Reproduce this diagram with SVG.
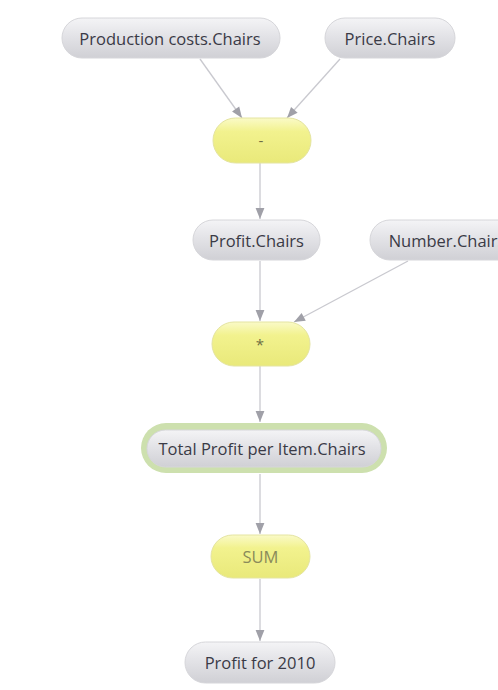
<svg xmlns="http://www.w3.org/2000/svg" width="498" height="690" viewBox="0 0 498 690">
  <style>
    .lbl { font-family: "Open Sans", "Noto Sans", "Liberation Sans", sans-serif; font-size: 16.5px; fill: #3a3a46; text-anchor: middle; dominant-baseline: central; }
    .op { font-family: "Open Sans", "Noto Sans", "Liberation Sans", sans-serif; font-size: 15px; fill: #6e6e44; text-anchor: middle; dominant-baseline: central; }
    .sum { font-size: 16.5px; fill: #8a8a5a; }
    .val { fill: url(#gGrey); stroke: #d6d6da; stroke-width: 1; }
    .fn { fill: url(#gYellow); stroke: #e4e4a0; stroke-width: 1; }
    .edge { stroke: #c9c9cf; stroke-width: 1.3; fill: none; marker-end: url(#arrow); }
  </style>
  <defs>
    <linearGradient id="gGrey" x1="0" y1="0" x2="0" y2="1">
      <stop offset="0" stop-color="#f4f4f6"/>
      <stop offset="0.45" stop-color="#e3e3e7"/>
      <stop offset="1" stop-color="#d0d0d5"/>
    </linearGradient>
    <linearGradient id="gYellow" x1="0" y1="0" x2="0" y2="1">
      <stop offset="0" stop-color="#fafac8"/>
      <stop offset="0.3" stop-color="#f2f28e"/>
      <stop offset="1" stop-color="#e9e97a"/>
    </linearGradient>
    <marker id="arrow" viewBox="0 0 10 10" refX="10" refY="5" markerWidth="12" markerHeight="11" markerUnits="userSpaceOnUse" orient="auto">
      <path d="M0,1 L10,5 L0,9 Z" fill="#a0a0a8"/>
    </marker>
  </defs>

  <!-- connectors -->
  <g id="edges">
    <line class="edge" x1="200" y1="59" x2="242" y2="118"/>
    <line class="edge" x1="340" y1="59" x2="287" y2="118"/>
    <line class="edge" x1="260" y1="163" x2="260" y2="219"/>
    <line class="edge" x1="260" y1="261" x2="260" y2="321"/>
    <line class="edge" x1="408" y1="261" x2="294" y2="322"/>
    <line class="edge" x1="260" y1="366" x2="260" y2="422"/>
    <line class="edge" x1="260" y1="474" x2="260" y2="534"/>
    <line class="edge" x1="260" y1="579" x2="260" y2="641"/>
  </g>

  <!-- nodes -->
  <g id="production-costs">
    <rect class="val" x="62" y="18" width="218" height="40" rx="20"/>
    <text class="lbl" x="170" y="38">Production costs.Chairs</text>
  </g>
  <g id="price">
    <rect class="val" x="325" y="18" width="130" height="40" rx="20"/>
    <text class="lbl" x="390" y="38">Price.Chairs</text>
  </g>
  <g id="op-minus">
    <rect class="fn" x="213" y="118" width="98" height="45" rx="22.5"/>
    <text class="op" x="261" y="140">-</text>
  </g>
  <g id="profit">
    <rect class="val" x="193" y="220" width="127" height="40" rx="20"/>
    <text class="lbl" x="256.5" y="240">Profit.Chairs</text>
  </g>
  <!-- this pill runs past the right edge of the canvas -->
  <g id="number">
    <rect class="val" x="370" y="220" width="150" height="40" rx="20"/>
    <text class="lbl" x="447" y="240">Number.Chairs</text>
  </g>
  <g id="op-multiply">
    <rect class="fn" x="212" y="322" width="98" height="44" rx="22"/>
    <text class="op" x="260" y="344">*</text>
  </g>
  <g id="total-profit">
    <rect x="141" y="423" width="246" height="50" rx="25" fill="#cde0ae"/>
    <rect class="val" x="147" y="430" width="234" height="37" rx="18.5"/>
    <text class="lbl" x="262" y="448.5">Total Profit per Item.Chairs</text>
  </g>
  <g id="op-sum">
    <rect class="fn" x="211" y="535" width="99" height="43" rx="21.5"/>
    <text class="op sum" x="260.5" y="556.5">SUM</text>
  </g>
  <g id="profit-2010">
    <rect class="val" x="185" y="642" width="150" height="41" rx="20.5"/>
    <text class="lbl" x="260" y="662.5">Profit for 2010</text>
  </g>
</svg>
